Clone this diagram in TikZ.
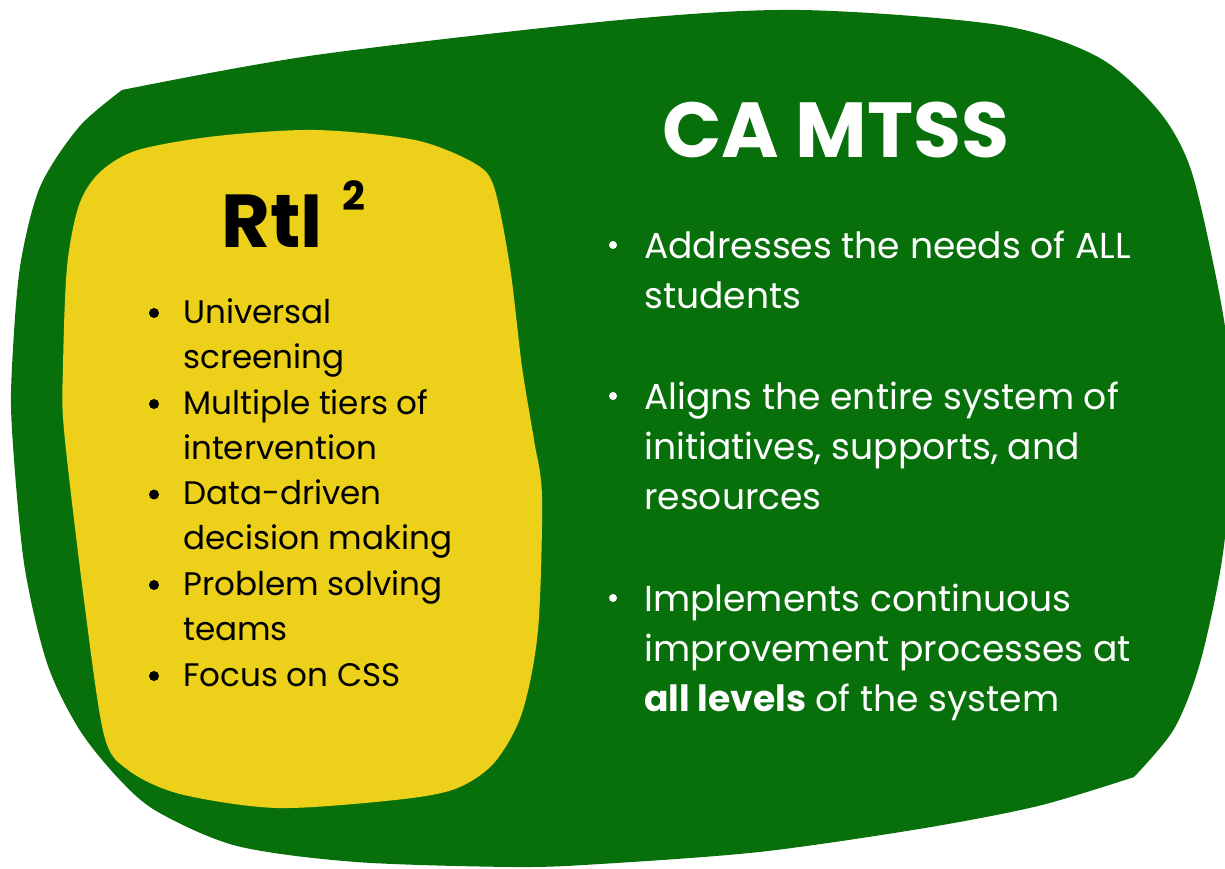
\documentclass[tikz,border=0pt]{standalone}
\usepackage{fontspec}
\setmainfont{Poppins}
\definecolor{bgreen}{RGB}{7,112,10}
\definecolor{byellow}{RGB}{236,208,26}
\tikzset{
  lefttxt/.style={anchor=base west,inner sep=0pt,align=left,text=black,font=\fontsize{32.6}{45.4}\selectfont},
  righttxt/.style={anchor=base west,inner sep=0pt,align=left,text=white,font=\fontsize{36.1}{50}\selectfont},
  lbul/.style={fill=black},
  rbul/.style={fill=white}
}
\begin{document}
\begin{tikzpicture}[x=1pt,y=-1pt]
\useasboundingbox (0,0) rectangle (1225,869);
% green blob
\fill[bgreen] plot[smooth,tension=0.5] coordinates {(122,90) (316,55) (620,20) (800,10) (999,25) (1098,57) (1158,110) (1190,167) (1214,267) (1228,350) (1232,450) (1222,560) (1200,663) (1174,729) (1134,777)}
  -- plot[smooth,tension=0.5] coordinates {(1134,777) (1038,806) (919,829) (759,852) (600,864) (514,867) (356,862) (237,846) (158,812) (119,779) (79,729) (47,663) (24,563) (12,430) (12,367) (20,267) (40,187) (79,127) (122,90)} -- cycle;
% yellow blob
\fill[byellow] plot[smooth cycle,tension=0.5] coordinates {(138,150) (217,136) (316,130) (415,140) (474,163) (494,187) (510,267) (522,367) (534,440) (542,497) (538,630) (522,713) (494,763) (455,789) (395,800) (277,808) (180,794) (128,770) (104,735) (84,600) (64,430) (63,367) (67,267) (79,205) (100,172)};
% titles
\node[anchor=base west,inner sep=0pt,text=black,font=\fontsize{75}{80}\selectfont\bfseries] (rti) at (221,247) {RtI};
\node[anchor=base west,inner sep=0pt,text=black,font=\fontsize{40}{44}\selectfont\bfseries] (sup) at (342,210) {2};
\node[anchor=base west,inner sep=0pt,text=white,font=\fontsize{78}{80}\selectfont\bfseries] (ca) at (662,158) {CA MTSS};
% left list (anchor = baseline of last line)
\node[lefttxt] (l1) at (183,368.4) {Universal\\screening};
\node[lefttxt] (l2) at (183,459.4) {Multiple tiers of\\intervention};
\node[lefttxt] (l3) at (183,549.9) {Data-driven\\decision making};
\node[lefttxt] (l4) at (183,640.4) {Problem solving\\teams};
\node[lefttxt] (l5) at (183,686) {Focus on CSS};
\foreach \y in {313,404,494.5,585,676} \fill[lbul] (154,\y) circle (5);
% right list (anchor = baseline of last line)
\node[righttxt] (r1) at (644,308) {Addresses the needs of ALL\\students};
\node[righttxt] (r2) at (644,509) {Aligns the entire system of\\initiatives, supports, and\\resources};
\node[righttxt] (r3) at (644,711) {Implements continuous\\improvement processes at\\\textbf{all levels} of the system};
\foreach \y in {245,396,598} \fill[rbul] (613,\y) circle (4);
\end{tikzpicture}
\end{document}
